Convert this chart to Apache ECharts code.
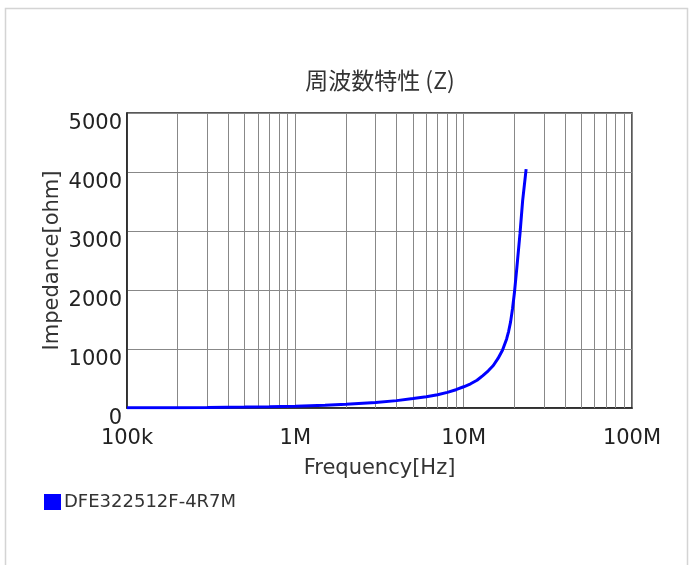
<!DOCTYPE html>
<html>
<head>
<meta charset="utf-8">
<script src="https://cdn.jsdelivr.net/npm/echarts@6/dist/echarts.min.js"></script>
<style>
html,body{margin:0;padding:0;background:#fff;}
#main{width:692px;height:565px;}
</style>
</head>
<body>
<div id="main"></div>
<script>
// ---- data ----
const chartTitle = '周波数特性 (Z)';
const seriesName = 'DFE322512F-4R7M';
const xAxisName = 'Frequency[Hz]';
const yAxisName = 'Impedance[ohm]';
const xTickValues = [1e5, 1e6, 1e7, 1e8];
const xTickLabels = ['100k', '1M', '10M', '100M'];
const yTickValues = [0, 1000, 2000, 3000, 4000, 5000];
const minorGridFreqs = [2e5,3e5,4e5,5e5,6e5,7e5,8e5,9e5,
                        2e6,3e6,4e6,5e6,6e6,7e6,8e6,9e6,
                        2e7,3e7,4e7,5e7,6e7,7e7,8e7,9e7];
const freqHz = [1e5, 1.5e5, 2e5, 3e5, 5e5, 7e5, 1e6, 1.5e6, 2e6, 3e6, 4e6, 5e6, 6e6, 7e6, 8e6, 9e6,
                1e7, 1.1e7, 1.2e7, 1.3e7, 1.4e7, 1.5e7, 1.6e7, 1.7e7, 1.8e7, 1.85e7, 1.9e7, 1.95e7,
                2.0e7, 2.07e7, 2.16e7, 2.24e7, 2.35e7];
const impedance = [3, 4, 6, 9, 15, 21, 30, 48, 65, 95, 125, 160, 190, 225, 265, 310,
                   360, 410, 470, 550, 630, 720, 840, 980, 1170, 1300, 1460, 1680,
                   1940, 2380, 2950, 3510, 4050];

const points = freqHz.map((f, i) => [f, impedance[i]]);
const font = '"DejaVu Sans", Verdana, sans-serif';

const chart = echarts.init(document.getElementById('main'), null, {renderer: 'canvas'});
chart.setOption({
  backgroundColor: '#fff',
  animation: false,
  title: {
    text: chartTitle,
    left: 375, top: 64, textAlign: 'center',
    textStyle: {fontFamily: '"Noto Sans CJK JP"', fontSize: 23, fontWeight: 'normal', color: '#333'}
  },
  legend: {
    left: 44, top: 493, padding: 0,
    icon: 'rect', itemWidth: 17, itemHeight: 16, itemGap: 4,
    textStyle: {fontFamily: font, fontSize: 18, color: '#333', padding: [0,0,0,-2]},
    data: [seriesName]
  },
  grid: {
    left: 127, top: 113, width: 505, height: 295,
    show: true, borderColor: '#222', borderWidth: 1.5, backgroundColor: 'transparent'
  },
  xAxis: {
    type: 'log', logBase: 10, min: 1e5, max: 1e8,
    name: xAxisName, nameLocation: 'middle', nameGap: 50,
    nameTextStyle: {fontFamily: font, fontSize: 21, color: '#333'},
    axisLine: {show: true, lineStyle: {color: '#222', width: 1.5}},
    axisTick: {show: false},
    splitLine: {show: true, lineStyle: {color: '#888', width: 1}},
    axisLabel: {
      fontFamily: font, fontSize: 21, color: '#222', margin: 20,
      formatter: v => { const i = xTickValues.findIndex(t => Math.abs(t - v) / t < 1e-6); return i >= 0 ? xTickLabels[i] : ''; }
    }
  },
  yAxis: {
    type: 'value', min: 0, max: 5000, interval: 1000,
    name: yAxisName, nameLocation: 'middle', nameGap: 64, nameRotate: 90, nameMoveOverlap: false,
    nameTextStyle: {fontFamily: font, fontSize: 21, color: '#333'},
    axisLine: {show: true, lineStyle: {color: '#222', width: 1.5}},
    axisTick: {show: false},
    splitLine: {show: true, lineStyle: {color: '#888', width: 1}},
    axisLabel: {
      fontFamily: font, fontSize: 21, color: '#222', margin: 5, verticalAlign: 'top',
      formatter: v => (yTickValues.indexOf(v) >= 0 ? String(v) : '')
    }
  },
  graphic: [{
    type: 'rect', silent: true, z: -1,
    shape: {x: 5.5, y: 8.5, width: 682, height: 570},
    style: {fill: 'none', stroke: '#d4d4d4', lineWidth: 1.5}
  }],
  series: [{
    name: seriesName, type: 'line', data: points,
    showSymbol: false, symbol: 'none', smooth: false,
    lineStyle: {color: '#0000ff', width: 3},
    itemStyle: {color: '#0000ff'},
    z: 5,
    markLine: {
      silent: true, symbol: 'none', label: {show: false},
      lineStyle: {color: '#888', width: 1, type: 'solid'},
      emphasis: {disabled: true},
      data: minorGridFreqs.map(f => ({xAxis: f}))
    }
  }]
});
</script>
</body>
</html>
